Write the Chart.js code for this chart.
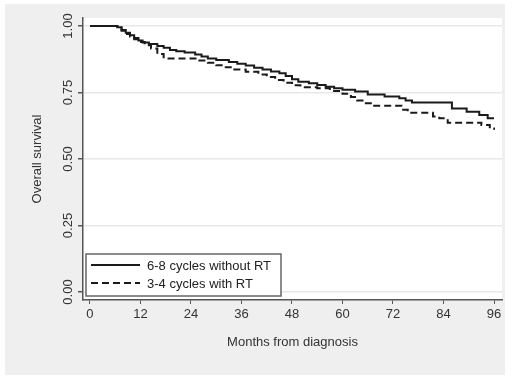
<!DOCTYPE html>
<html lang="en">
<head>
<meta charset="UTF-8">
<title>Overall survival</title>
<script src="https://cdn.jsdelivr.net/npm/chart.js"></script>
<style>
  html, body { margin: 0; padding: 0; background: #fff; }
  #wrap { width: 520px; height: 381px; }
</style>
</head>
<body>
<div id="wrap"><canvas id="osChart" width="520" height="381"></canvas></div>
<script>
// Kaplan-Meier steps (months, survival after the step)
const noRtMonths = [0, 6.5, 7.5, 8.5, 9.5, 10.5, 11.5, 12.5, 14, 16, 17.5, 19, 20.5, 22.5, 25, 26.5, 28, 30,
  33, 35, 37, 39, 41, 43, 45, 46.5, 48, 49.5, 52, 54, 56, 58, 60, 63, 66, 70, 73.5, 75, 76.5, 86, 89.5, 92.5, 94.5, 96];
const noRtSurv = [1.00, 0.995, 0.985, 0.975, 0.965, 0.955, 0.945, 0.938, 0.932, 0.925, 0.918, 0.910, 0.905, 0.900, 0.893, 0.885, 0.878, 0.872,
  0.865, 0.858, 0.851, 0.843, 0.836, 0.829, 0.822, 0.812, 0.800, 0.790, 0.785, 0.778, 0.772, 0.766, 0.760, 0.754, 0.742, 0.735, 0.728, 0.720, 0.712, 0.690, 0.678, 0.665, 0.653, 0.653];

const rtMonths = [0, 6.5, 7.5, 8.5, 9.5, 10.5, 11.5, 13, 14.5, 16, 17.5, 26, 28, 30, 32, 34, 37, 40, 42, 44, 46, 48,
  50, 54, 57, 60, 62, 63.5, 65, 67, 74, 75.5, 81.5, 83, 85, 93, 95, 96];
const rtSurv = [1.00, 0.993, 0.982, 0.970, 0.960, 0.950, 0.940, 0.928, 0.915, 0.895, 0.878, 0.870, 0.862, 0.852, 0.845, 0.836, 0.828, 0.818, 0.808, 0.797, 0.787, 0.777,
  0.770, 0.766, 0.756, 0.745, 0.733, 0.720, 0.710, 0.700, 0.685, 0.674, 0.660, 0.653, 0.636, 0.628, 0.615, 0.610];

const groupLabels = ['6-8 cycles without RT', '3-4 cycles with RT'];
const xTicks = [0, 12, 24, 36, 48, 60, 72, 84, 96];
const yTicks = [0, 0.25, 0.5, 0.75, 1];

function toPoints(months, surv) {
  return months.map((m, i) => ({ x: m, y: surv[i] }));
}

Chart.defaults.font.family = "'Liberation Sans', Arial, sans-serif";
Chart.defaults.font.size = 13;
Chart.defaults.color = '#333';

// grey page behind the white plot region
const background = {
  id: 'background',
  beforeDraw(chart) {
    const { ctx, chartArea: a } = chart;
    ctx.save();
    ctx.fillStyle = '#fff';
    ctx.fillRect(0, 0, chart.width, chart.height);
    ctx.fillStyle = '#efefef';
    ctx.fillRect(5, 4, 500, 371);
    ctx.fillStyle = '#fff';
    ctx.fillRect(a.left, a.top, a.right - a.left, a.bottom - a.top);
    ctx.restore();
  }
};

// legend box inside the plot, bottom left
const insideLegend = {
  id: 'insideLegend',
  afterDatasetsDraw(chart) {
    const { ctx, chartArea: a } = chart;
    const x0 = a.left + 3, y0 = 254, w = 195, h = 42;
    ctx.save();
    ctx.fillStyle = '#fff';
    ctx.fillRect(x0, y0, w, h);
    ctx.strokeStyle = '#666';
    ctx.lineWidth = 1.5;
    ctx.strokeRect(x0, y0, w, h);
    chart.data.datasets.forEach((ds, i) => {
      const y = y0 + 11 + i * 18;
      ctx.strokeStyle = ds.borderColor;
      ctx.lineWidth = ds.borderWidth;
      ctx.setLineDash(ds.borderDash || []);
      ctx.beginPath();
      ctx.moveTo(x0 + 5, y);
      ctx.lineTo(x0 + 54, y);
      ctx.stroke();
      ctx.setLineDash([]);
      ctx.fillStyle = '#222';
      ctx.font = "13px 'Liberation Sans', Arial, sans-serif";
      ctx.textBaseline = 'middle';
      ctx.fillText(ds.label, x0 + 61, y + 1);
    });
    ctx.restore();
  }
};

new Chart(document.getElementById('osChart'), {
  type: 'line',
  data: {
    datasets: [
      {
        label: groupLabels[0],
        data: toPoints(noRtMonths, noRtSurv),
        borderColor: '#1a1a1a',
        borderWidth: 2,
        stepped: true,
        pointRadius: 0,
        fill: false
      },
      {
        label: groupLabels[1],
        data: toPoints(rtMonths, rtSurv),
        borderColor: '#1a1a1a',
        borderWidth: 2,
        borderDash: [7, 4],
        stepped: true,
        pointRadius: 0,
        fill: false
      }
    ]
  },
  options: {
    responsive: false,
    animation: false,
    layout: { padding: { top: 18, right: 18, left: 0, bottom: 0 } },
    plugins: {
      legend: { display: false },
      tooltip: { enabled: false }
    },
    scales: {
      x: {
        type: 'linear',
        min: -1.66,
        max: 97.9,
        afterBuildTicks: s => { s.ticks = xTicks.map(v => ({ value: v })); },
        afterFit: s => { s.height = 81; },
        grid: { drawOnChartArea: false, drawTicks: true, tickLength: 4, tickColor: '#555' },
        border: { display: true, color: '#555', width: 1.5 },
        ticks: { padding: 3, color: '#333', maxRotation: 0 },
        title: {
          display: true,
          text: 'Months from diagnosis',
          color: '#333',
          font: { size: 13 },
          padding: { top: 0, bottom: 31 }
        }
      },
      y: {
        min: -0.03,
        max: 1.03,
        afterBuildTicks: s => { s.ticks = yTicks.map(v => ({ value: v })); },
        afterFit: s => { s.width = 83; },
        grid: { color: '#e8e8e8', lineWidth: 1.5, drawTicks: true, tickLength: 5, tickColor: '#555' },
        border: { display: true, color: '#555', width: 1.5 },
        ticks: {
          minRotation: 90,
          maxRotation: 90,
          crossAlign: 'center',
          padding: -3,
          color: '#333',
          callback: v => v.toFixed(2)
        },
        title: {
          display: true,
          text: 'Overall survival',
          color: '#333',
          font: { size: 13 },
          padding: { top: 30, bottom: 0 }
        }
      }
    }
  },
  plugins: [background, insideLegend]
});
</script>
</body>
</html>
